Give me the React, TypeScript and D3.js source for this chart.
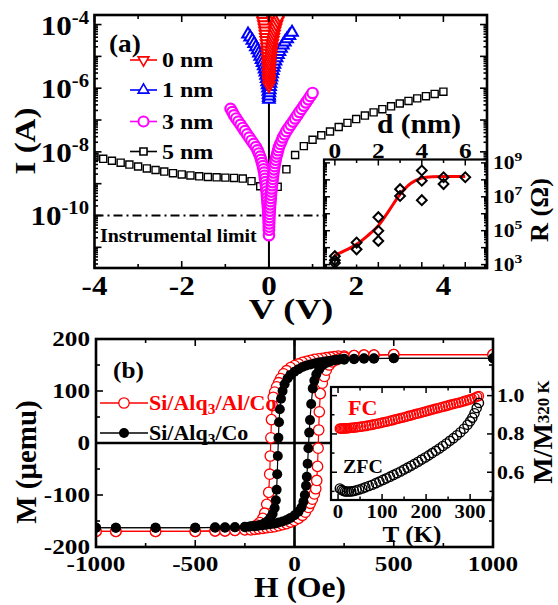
import React from "react";
import * as d3 from "d3";

// ---------- panel (a): I-V curves, bias (V) and log10 of current (A)
const v0nm = [-0.17, -0.15, -0.13, -0.115, -0.1, -0.09, -0.08, -0.07, -0.062, -0.055, -0.048, -0.042, -0.036, -0.03, -0.025, -0.02, -0.016, -0.012, -0.009, -0.006, -0.004, -0.002, 0, 0.002, 0.004, 0.007, 0.01, 0.014, 0.018, 0.023, 0.03, 0.037, 0.045, 0.055, 0.065, 0.075, 0.087, 0.1, 0.115, 0.13, 0.15, 0.17, 0.195, 0.22, 0.25];
const logI0nm = [-3.72, -3.8, -3.9, -4.0, -4.1, -4.2, -4.3, -4.4, -4.5, -4.6, -4.7, -4.8, -4.9, -5.0, -5.1, -5.2, -5.3, -5.4, -5.5, -5.6, -5.7, -5.8, -5.92, -5.8, -5.7, -5.6, -5.5, -5.4, -5.3, -5.2, -5.1, -5.0, -4.9, -4.8, -4.7, -4.6, -4.5, -4.4, -4.3, -4.2, -4.1, -4.0, -3.9, -3.8, -3.72];
// second (inner) sweep of the 0 nm device
const v0nmSweep2 = [-0.08, -0.07, -0.06, -0.052, -0.045, -0.039, -0.033, -0.028, -0.024, -0.02, -0.017, -0.014, -0.011, 0.015, 0.019, 0.023, 0.028, 0.034, 0.041, 0.049, 0.058, 0.068, 0.08, 0.093, 0.108, 0.125];
const logI0nmSweep2 = [-3.75, -3.85, -3.95, -4.05, -4.15, -4.25, -4.35, -4.45, -4.55, -4.65, -4.75, -4.85, -4.95, -4.95, -4.85, -4.75, -4.65, -4.55, -4.45, -4.35, -4.25, -4.15, -4.05, -3.95, -3.85, -3.75];

const v1nm = [-0.48, -0.43, -0.38, -0.34, -0.3, -0.26, -0.23, -0.2, -0.17, -0.145, -0.12, -0.1, -0.082, -0.066, -0.052, -0.04, -0.03, -0.021, -0.014, -0.008, -0.003, 0, 0.005, 0.011, 0.018, 0.026, 0.035, 0.046, 0.058, 0.072, 0.088, 0.106, 0.127, 0.15, 0.177, 0.207, 0.24, 0.278, 0.32, 0.366, 0.416, 0.47, 0.53];
const logI1nm = [-4.3, -4.4, -4.5, -4.6, -4.7, -4.8, -4.9, -5.0, -5.1, -5.2, -5.3, -5.4, -5.5, -5.6, -5.7, -5.8, -5.9, -6.0, -6.1, -6.2, -6.3, -6.35, -6.25, -6.15, -6.05, -5.95, -5.85, -5.75, -5.65, -5.55, -5.45, -5.35, -5.25, -5.15, -5.05, -4.95, -4.85, -4.75, -4.65, -4.55, -4.45, -4.35, -4.25];

const v3nm = [-0.88, -0.84, -0.8, -0.75, -0.7, -0.65, -0.6, -0.55, -0.5, -0.45, -0.4, -0.35, -0.3, -0.26, -0.23, -0.2, -0.18, -0.16, -0.14, -0.125, -0.11, -0.1, -0.09, -0.08, -0.07, -0.062, -0.055, -0.048, -0.042, -0.036, -0.03, -0.025, -0.02, -0.016, -0.012, -0.009, -0.006, -0.004, -0.002, 0,
  0.002, 0.004, 0.006, 0.009, 0.012, 0.016, 0.02, 0.025, 0.03, 0.036, 0.042, 0.048, 0.055, 0.062, 0.07, 0.078, 0.086, 0.095, 0.105, 0.115, 0.127, 0.14, 0.155, 0.17, 0.19, 0.21, 0.23, 0.26, 0.29, 0.32, 0.36, 0.4, 0.45, 0.5, 0.55, 0.6, 0.65, 0.7, 0.75, 0.8, 0.85, 0.9, 0.95, 1.0];
const logI3nm = [-6.65, -6.75, -6.85, -6.95, -7.05, -7.15, -7.25, -7.35, -7.45, -7.55, -7.65, -7.75, -7.85, -7.95, -8.05, -8.15, -8.25, -8.35, -8.45, -8.55, -8.65, -8.75, -8.85, -8.95, -9.05, -9.15, -9.25, -9.35, -9.45, -9.55, -9.65, -9.75, -9.85, -9.95, -10.05, -10.15, -10.25, -10.35, -10.45, -10.62,
  -10.45, -10.35, -10.25, -10.15, -10.05, -9.95, -9.85, -9.75, -9.65, -9.55, -9.45, -9.35, -9.25, -9.15, -9.05, -8.95, -8.85, -8.75, -8.65, -8.55, -8.45, -8.35, -8.25, -8.15, -8.05, -7.95, -7.85, -7.75, -7.65, -7.55, -7.45, -7.35, -7.25, -7.15, -7.05, -6.95, -6.85, -6.75, -6.65, -6.55, -6.45, -6.35, -6.25, -6.15];

const v5nm = [-4.0, -3.8, -3.6, -3.4, -3.2, -3.0, -2.8, -2.6, -2.4, -2.2, -2.0, -1.8, -1.6, -1.4, -1.2, -1.0, -0.8, -0.6, -0.4, -0.2, 0.0, 0.2, 0.4, 0.6, 0.8, 1.0, 1.2, 1.4, 1.6, 1.8, 2.0, 2.2, 2.4, 2.6, 2.8, 3.0, 3.2, 3.4, 3.6, 3.8, 4.0];
const logI5nm = [-8.16, -8.22, -8.28, -8.34, -8.4, -8.46, -8.52, -8.57, -8.62, -8.67, -8.71, -8.74, -8.77, -8.79, -8.8, -8.81, -8.82, -8.84, -8.92, -9.08, -9.5, -9.1, -8.55, -8.1, -7.82, -7.62, -7.48, -7.36, -7.22, -7.09, -6.97, -6.86, -6.76, -6.66, -6.57, -6.48, -6.4, -6.32, -6.25, -6.18, -6.11];

const limitLogI = -10;

// inset (a): resistance vs Alq3 thickness
const dNm = [0, 0, 0, 1, 1, 2, 2, 2, 3, 3, 4, 4, 4, 5, 5, 6];
const logR = [3.5, 3.25, 3.1, 4.3, 3.9, 5.8, 5.0, 4.4, 7.45, 7.05, 8.55, 7.95, 6.8, 8.15, 7.75, 8.15];
const fitD = [0, 0.5, 1, 1.5, 2, 2.5, 3, 3.5, 4, 4.5, 5, 5.5, 6];
const fitLogR = [3.55, 3.85, 4.2, 4.7, 5.3, 6.2, 7.15, 7.8, 8.1, 8.18, 8.2, 8.2, 8.2];

// ---------- panel (b): hysteresis loops, H (Oe) and M (uemu)
const hAlDown = [1000, 500, 400, 350, 300, 250, 220, 200, 180, 160, 140, 120, 100, 80, 60, 40, 20, 0, -20, -40, -55, -70, -80, -90, -100, -107, -112, -116, -119, -122, -125, -130, -140, -150, -160, -175, -190, -210, -230, -250, -300, -350, -400, -500, -700, -900, -1000];
const mAlDown = [170, 170, 169, 169, 168, 167, 167, 166, 165, 164, 163, 162, 161, 159, 157, 155, 152, 149, 145, 139, 133, 124, 116, 108, 98, 88, 72, 45, 10, -25, -60, -95, -118, -135, -145, -153, -158, -162, -164, -166, -168, -169, -169, -170, -170, -170, -170];
const hAlUp = [-1000, -900, -700, -500, -400, -350, -300, -250, -220, -200, -180, -160, -140, -120, -100, -80, -60, -40, -20, 0, 20, 40, 55, 70, 80, 90, 100, 107, 112, 116, 119, 122, 125, 130, 140, 150, 160, 175, 190, 210, 230, 250, 300, 350, 400, 500, 1000];
const mAlUp = [-170, -170, -170, -170, -169, -169, -168, -167, -167, -166, -165, -164, -163, -162, -161, -159, -157, -155, -152, -149, -145, -139, -133, -124, -116, -108, -98, -88, -72, -45, -10, 25, 60, 95, 115, 128, 140, 150, 156, 160, 163, 165, 168, 169, 169, 170, 170];

const hCoDown = [1000, 500, 400, 350, 300, 250, 220, 200, 180, 160, 140, 120, 100, 80, 60, 40, 20, 0, -20, -35, -50, -60, -68, -74, -78, -81, -84, -87, -90, -94, -100, -110, -120, -135, -150, -170, -190, -210, -230, -250, -300, -350, -400, -500, -700, -900, -1000];
const mCoDown = [163, 163, 162, 162, 161, 160, 160, 159, 158, 157, 156, 155, 153, 151, 149, 146, 142, 137, 131, 124, 113, 100, 85, 65, 40, 10, -25, -60, -90, -110, -125, -136, -143, -150, -154, -157, -159, -160, -161, -162, -162, -163, -163, -163, -163, -163, -163];
const hCoUp = [-1000, -900, -700, -500, -400, -350, -300, -250, -220, -200, -180, -160, -140, -120, -100, -80, -60, -40, -20, 0, 20, 35, 45, 52, 58, 62, 66, 70, 74, 78, 84, 92, 100, 110, 125, 140, 160, 180, 200, 230, 250, 300, 350, 400, 500, 1000];
const mCoUp = [-163, -163, -163, -163, -162, -162, -162, -161, -160, -160, -159, -158, -157, -156, -155, -153, -151, -148, -144, -139, -132, -124, -113, -100, -82, -65, -40, -10, 20, 44, 75, 105, 120, 132, 142, 149, 154, 157, 159, 161, 162, 162, 163, 163, 163, 163];

// inset (b): M/M(320 K) vs T
const tFC = [4, 7, 10, 13, 16, 19, 22, 26, 30, 35, 40, 46, 52, 58, 64, 70, 76, 82, 88, 94, 100, 106, 112, 118, 124, 130, 136, 142, 148, 154, 160, 166, 172, 178, 184, 190, 196, 202, 208, 214, 220, 226, 232, 238, 244, 250, 256, 262, 268, 274, 280, 286, 292, 298, 304, 310, 316, 320];
const mFC = [0.828, 0.828, 0.828, 0.829, 0.829, 0.83, 0.83, 0.831, 0.832, 0.833, 0.834, 0.836, 0.838, 0.84, 0.842, 0.845, 0.847, 0.85, 0.853, 0.856, 0.859, 0.862, 0.865, 0.869, 0.872, 0.876, 0.879, 0.883, 0.886, 0.89, 0.894, 0.897, 0.901, 0.905, 0.908, 0.912, 0.916, 0.92, 0.923, 0.927, 0.931, 0.934, 0.938, 0.942, 0.945, 0.949, 0.953, 0.956, 0.96, 0.963, 0.967, 0.971, 0.975, 0.979, 0.984, 0.989, 0.995, 0.998];
const tZFC = [4, 8, 12, 16, 20, 25, 30, 36, 42, 48, 55, 62, 70, 78, 86, 94, 102, 110, 118, 126, 134, 142, 150, 158, 166, 174, 182, 190, 198, 206, 214, 222, 230, 238, 246, 254, 262, 270, 278, 286, 294, 300, 305, 310, 315, 320];
const mZFC = [0.515, 0.508, 0.503, 0.5, 0.499, 0.499, 0.5, 0.502, 0.506, 0.51, 0.515, 0.521, 0.528, 0.535, 0.543, 0.551, 0.56, 0.568, 0.577, 0.586, 0.595, 0.604, 0.614, 0.624, 0.634, 0.644, 0.655, 0.666, 0.677, 0.688, 0.7, 0.712, 0.724, 0.737, 0.75, 0.764, 0.778, 0.793, 0.809, 0.827, 0.848, 0.866, 0.885, 0.908, 0.935, 0.962];

// tick values
const aXMajor = [-4, -2, 0, 2, 4];
const aXMinor = [-3, -1, 1, 3, 5];
const aYLabelExp = [-4, -6, -8, -10];
const iaXMajor = [0, 2, 4, 6];
const iaXMinor = [1, 3, 5];
const iaYLabelExp = [9, 7, 5, 3];
const bXMajor = [-1000, -500, 0, 500, 1000];
const bXMinor = [-750, -250, 250, 750];
const bYMajor = [-200, -100, 0, 100, 200];
const bYMinor = [-150, -50, 50, 150];
const ibXMajor = [0, 100, 200, 300];
const ibXMinor = [50, 150, 250, 350];
const ibYMajor = [0.6, 0.8, 1.0];
const ibYMinor = [0.5, 0.7, 0.9];

const FONT = '"Liberation Serif", "Times New Roman", serif';
const RED = "#ff0000";
const BLUE = "#0000ff";
const MAGENTA = "#ff00ff";

// layout boxes
const A = { l: 94.5, r: 487, t: 15, b: 268 };
const IA = { l: 324, r: 487, t: 159.5, b: 268 };
const B = { l: 96, r: 493, t: 339, b: 547 };
const IB = { l: 331, r: 493, t: 387, b: 500 };

const xA = d3.scaleLinear().domain([-4, 5]).range([A.l, A.r]);
const yA = d3.scaleLog().domain([10 ** -11.65, 10 ** -3.7]).range([A.b, A.t]);
const xIA = d3.scaleLinear().domain([-0.5, 7]).range([IA.l, IA.r]);
const yIA = d3.scaleLog().domain([10 ** 2.8, 10 ** 9.2]).range([IA.b, IA.t]);
const xB = d3.scaleLinear().domain([-1000, 1000]).range([B.l, B.r]);
const yB = d3.scaleLinear().domain([-200, 200]).range([B.b, B.t]);
const xIB = d3.scaleLinear().domain([-16, 352]).range([IB.l, IB.r]);
const yIB = d3.scaleLinear().domain([0.455, 1.045]).range([IB.b, IB.t]);

const triPath = d3.symbol().type(d3.symbolTriangle).size(58)() as string;
const triLegend = d3.symbol().type(d3.symbolTriangle).size(50)() as string;
const sqPath = d3.symbol().type(d3.symbolSquare).size(50)() as string;
const diaPath = d3.symbol().type(d3.symbolSquare).size(48)() as string;

type TxtProps = {
  x: number; y: number; size: number; anchor?: string; sx?: number; rot?: number; fill?: string;
  children: React.ReactNode;
};
function Txt({ x, y, size, anchor = "middle", sx = 1.15, rot = 0, fill = "#000", children }: TxtProps) {
  return (
    <text
      transform={`translate(${x},${y}) rotate(${rot}) scale(${sx},1)`}
      fontSize={size}
      textAnchor={anchor}
      fill={fill}
      fontFamily={FONT}
      fontWeight="bold"
    >
      {children}
    </text>
  );
}

// log ticks: every j*10^k inside the domain
function logTicks(lo: number, hi: number) {
  const out: { v: number; major: boolean }[] = [];
  for (let k = Math.floor(lo); k <= Math.ceil(hi); k++) {
    for (let j = 1; j < 10; j++) {
      const v = j * 10 ** k;
      const e = Math.log10(v);
      if (e >= lo && e <= hi) out.push({ v, major: j === 1 });
    }
  }
  return out;
}

function hTicks(scale: (v: number) => number, vals: number[], y: number, dir: number, len: number) {
  return vals.map((v, i) => (
    <line key={`h${y}-${i}-${v}`} x1={scale(v)} x2={scale(v)} y1={y} y2={y + dir * len} />
  ));
}
function vTicks(scale: (v: number) => number, vals: number[], x: number, dir: number, len: number) {
  return vals.map((v, i) => (
    <line key={`v${x}-${i}-${v}`} x1={x} x2={x + dir * len} y1={scale(v)} y2={scale(v)} />
  ));
}

function zip(xs: number[], ys: number[]) {
  return xs.map((x, i) => [x, ys[i]] as [number, number]);
}

export default function App() {
  const aLog = logTicks(-11.65, -3.7);
  const iaLog = logTicks(2.8, 9.2);

  const lineB = d3
    .line<[number, number]>()
    .x((d) => xB(d[0]))
    .y((d) => yB(d[1]));

  const fitLine = d3
    .line<[number, number]>()
    .x((d) => xIA(d[0]))
    .y((d) => yIA(10 ** d[1]))
    .curve(d3.curveMonotoneX);

  const s5 = zip(v5nm, logI5nm);
  const s3 = zip(v3nm, logI3nm);
  const s1 = zip(v1nm, logI1nm);
  const s0 = [...zip(v0nmSweep2, logI0nmSweep2), ...zip(v0nm, logI0nm)];

  return (
    <svg
      width={558}
      height={605}
      viewBox="0 0 558 605"
      style={{ position: "absolute", left: 0, top: 0, background: "#fff" }}
    >
      <defs>
        <clipPath id="clipA">
          <rect x={A.l} y={A.t} width={A.r - A.l} height={A.b - A.t} />
        </clipPath>
        <clipPath id="clipB">
          <rect x={B.l} y={B.t} width={B.r - B.l} height={B.b - B.t} />
        </clipPath>
        <clipPath id="clipIB">
          <rect x={IB.l} y={IB.t} width={IB.r - IB.l} height={IB.b - IB.t} />
        </clipPath>
      </defs>
      <rect x={0} y={0} width={558} height={605} fill="#fff" />

      {/* ================= panel (a) ================= */}
      <line x1={xA(0)} x2={xA(0)} y1={A.t} y2={A.b} stroke="#000" strokeWidth={2} />
      <line
        x1={A.l}
        x2={IA.l}
        y1={yA(10 ** limitLogI)}
        y2={yA(10 ** limitLogI)}
        stroke="#000"
        strokeWidth={1.8}
        strokeDasharray="9 4 2 4"
      />
      <g clipPath="url(#clipA)">
        {s5.map((d, i) => (
          <path key={`s5-${i}`} d={sqPath} transform={`translate(${xA(d[0])},${yA(10 ** d[1])})`} fill="#fff" stroke="#000" strokeWidth={1.4} />
        ))}
        {s3.map((d, i) => (
          <circle key={`s3-${i}`} cx={xA(d[0])} cy={yA(10 ** d[1])} r={5.2} fill="#fff" stroke={MAGENTA} strokeWidth={2.2} />
        ))}
        {s1.map((d, i) => (
          <path key={`s1-${i}`} d={triPath} transform={`translate(${xA(d[0])},${yA(10 ** d[1])})`} fill="#fff" stroke={BLUE} strokeWidth={2} />
        ))}
        {s0.map((d, i) => (
          <path key={`s0-${i}`} d={triPath} transform={`translate(${xA(d[0])},${yA(10 ** d[1])}) rotate(180)`} fill="#fff" stroke={RED} strokeWidth={2} />
        ))}
      </g>

      {/* ticks of panel (a) */}
      <g stroke="#000" strokeWidth={1.6}>
        {hTicks(xA, aXMajor, A.b, -1, 7)}
        {hTicks(xA, aXMinor, A.b, -1, 4)}
        {hTicks(xA, aXMajor, A.t, 1, 7)}
        {hTicks(xA, aXMinor, A.t, 1, 4)}
        {aLog.map((t, i) => (
          <line key={`al${i}`} x1={A.l} x2={A.l + (t.major ? 7 : 3.5)} y1={yA(t.v)} y2={yA(t.v)} />
        ))}
        {aLog.map((t, i) => (
          <line key={`ar${i}`} x1={A.r} x2={A.r - (t.major ? 7 : 3.5)} y1={yA(t.v)} y2={yA(t.v)} />
        ))}
      </g>

      {/* inset (a) */}
      <rect x={IA.l} y={IA.t} width={IA.r - IA.l} height={IA.b - IA.t} fill="#fff" />
      <path d={fitLine(zip(fitD, fitLogR)) as string} fill="none" stroke={RED} strokeWidth={3} />
      {zip(dNm, logR).map((d, i) => (
        <path key={`dia${i}`} d={diaPath} transform={`translate(${xIA(d[0])},${yIA(10 ** d[1])}) rotate(45)`} fill="none" stroke="#000" strokeWidth={2} />
      ))}
      <g stroke="#000" strokeWidth={1.5}>
        {hTicks(xIA, iaXMajor, IA.t, 1, 6)}
        {hTicks(xIA, iaXMinor, IA.t, 1, 3.5)}
        {hTicks(xIA, iaXMajor, IA.b, -1, 6)}
        {hTicks(xIA, iaXMinor, IA.b, -1, 3.5)}
        {iaLog.map((t, i) => (
          <line key={`ial${i}`} x1={IA.l} x2={IA.l + (t.major ? 6 : 3)} y1={yIA(t.v)} y2={yIA(t.v)} />
        ))}
        {iaLog.map((t, i) => (
          <line key={`iar${i}`} x1={IA.r} x2={IA.r - (t.major ? 6 : 3)} y1={yIA(t.v)} y2={yIA(t.v)} />
        ))}
      </g>
      <rect x={IA.l} y={IA.t} width={IA.r - IA.l} height={IA.b - IA.t} fill="none" stroke="#000" strokeWidth={2.2} />
      <rect x={A.l} y={A.t} width={A.r - A.l} height={A.b - A.t} fill="none" stroke="#000" strokeWidth={2.6} />

      {/* labels of panel (a) */}
      {aXMajor.map((v) => (
        <Txt key={`axl${v}`} x={xA(v)} y={A.b + 27} size={27} sx={1.15}>
          {String(v)}
        </Txt>
      ))}
      {aYLabelExp.map((e) => (
        <Txt key={`ayl${e}`} x={89} y={yA(10 ** e) + 10} size={27} anchor="end" sx={1.15}>
          <tspan>10</tspan>
          <tspan dy={-11} fontSize={18}>{String(e)}</tspan>
        </Txt>
      ))}
      <Txt x={291} y={319} size={30} sx={1.2}>V (V)</Txt>
      <Txt x={35} y={141} size={30} rot={-90} sx={1.1}>I (A)</Txt>
      <Txt x={100} y={242} size={19} anchor="start" sx={1.05}>Instrumental limit</Txt>
      <Txt x={109} y={52} size={26} anchor="start" sx={1.05}>(a)</Txt>

      {/* legend (a) */}
      {[
        { label: "0 nm", y: 60, color: RED, kind: "down" },
        { label: "1 nm", y: 90, color: BLUE, kind: "up" },
        { label: "3 nm", y: 121.5, color: MAGENTA, kind: "circle" },
        { label: "5 nm", y: 151.5, color: "#000", kind: "square" },
      ].map((it) => (
        <g key={it.label}>
          <line x1={130} x2={157} y1={it.y} y2={it.y} stroke={it.color} strokeWidth={1.6} />
          {it.kind === "circle" ? (
            <circle cx={143.5} cy={it.y} r={5} fill="#fff" stroke={it.color} strokeWidth={2} />
          ) : (
            <path
              d={it.kind === "square" ? sqPath : triLegend}
              transform={`translate(143.5,${it.y})${it.kind === "down" ? " rotate(180)" : ""}`}
              fill="#fff"
              stroke={it.color}
              strokeWidth={1.6}
            />
          )}
          <Txt x={162} y={it.y + 7} size={20} anchor="start" sx={1.2}>{it.label}</Txt>
        </g>
      ))}

      {/* labels of inset (a) */}
      {iaXMajor.map((v) => (
        <Txt key={`iaxl${v}`} x={xIA(v)} y={IA.t - 2} size={22} sx={1.15}>
          {String(v)}
        </Txt>
      ))}
      <Txt x={419} y={133} size={28} sx={1.05}>d (nm)</Txt>
      {iaYLabelExp.map((e) => (
        <Txt key={`iayl${e}`} x={493} y={yIA(10 ** e) + 6} size={18} anchor="start" sx={1.2}>
          <tspan>10</tspan>
          <tspan dy={-8} fontSize={13}>{String(e)}</tspan>
        </Txt>
      ))}
      <Txt x={548} y={210} size={25} rot={-90} sx={1.05}>R (Ω)</Txt>

      {/* ================= panel (b) ================= */}
      <line x1={xB(0)} x2={xB(0)} y1={B.t} y2={B.b} stroke="#000" strokeWidth={2.6} />
      <line x1={B.l} x2={IB.l} y1={yB(0)} y2={yB(0)} stroke="#000" strokeWidth={2.6} />
      <g clipPath="url(#clipB)">
        <path d={lineB(zip(hCoDown, mCoDown)) as string} fill="none" stroke="#000" strokeWidth={1.2} />
        <path d={lineB(zip(hCoUp, mCoUp)) as string} fill="none" stroke="#000" strokeWidth={1.2} />
        <path d={lineB(zip(hAlDown, mAlDown)) as string} fill="none" stroke={RED} strokeWidth={1.2} />
        <path d={lineB(zip(hAlUp, mAlUp)) as string} fill="none" stroke={RED} strokeWidth={1.2} />
        {[...zip(hAlDown, mAlDown), ...zip(hAlUp, mAlUp)].map((d, i) => (
          <circle key={`al-${i}`} cx={xB(d[0])} cy={yB(d[1])} r={5.2} fill="#fff" stroke={RED} strokeWidth={1.3} />
        ))}
        {[...zip(hCoDown, mCoDown), ...zip(hCoUp, mCoUp)].map((d, i) => (
          <circle key={`co-${i}`} cx={xB(d[0])} cy={yB(d[1])} r={5} fill="#000" />
        ))}
      </g>

      <g stroke="#000" strokeWidth={1.6}>
        {hTicks(xB, bXMajor, B.b, -1, 7)}
        {hTicks(xB, bXMinor, B.b, -1, 4)}
        {hTicks(xB, bXMajor, B.t, 1, 7)}
        {hTicks(xB, bXMinor, B.t, 1, 4)}
        {vTicks(yB, bYMajor, B.l, 1, 7)}
        {vTicks(yB, bYMinor, B.l, 1, 4)}
        {vTicks(yB, bYMajor, B.r, -1, 7)}
        {vTicks(yB, bYMinor, B.r, -1, 4)}
      </g>

      {/* inset (b) */}
      <rect x={IB.l} y={IB.t} width={IB.r - IB.l} height={IB.b - IB.t} fill="#fff" />
      <g clipPath="url(#clipIB)">
        {zip(tFC, mFC).map((d, i) => (
          <circle key={`fc${i}`} cx={xIB(d[0])} cy={yIB(d[1])} r={4.6} fill="none" stroke={RED} strokeWidth={1.4} />
        ))}
        {zip(tZFC, mZFC).map((d, i) => (
          <circle key={`zfc${i}`} cx={xIB(d[0])} cy={yIB(d[1])} r={4.6} fill="none" stroke="#000" strokeWidth={1.4} />
        ))}
      </g>
      <g stroke="#000" strokeWidth={1.5}>
        {hTicks(xIB, ibXMajor, IB.b, -1, 6)}
        {hTicks(xIB, ibXMinor, IB.b, -1, 3.5)}
        {hTicks(xIB, ibXMajor, IB.t, 1, 6)}
        {hTicks(xIB, ibXMinor, IB.t, 1, 3.5)}
        {vTicks(yIB, ibYMajor, IB.l, 1, 6)}
        {vTicks(yIB, ibYMinor, IB.l, 1, 3.5)}
        {vTicks(yIB, ibYMajor, IB.r, -1, 6)}
        {vTicks(yIB, ibYMinor, IB.r, -1, 3.5)}
      </g>
      <rect x={IB.l} y={IB.t} width={IB.r - IB.l} height={IB.b - IB.t} fill="none" stroke="#000" strokeWidth={2.2} />
      <rect x={B.l} y={B.t} width={B.r - B.l} height={B.b - B.t} fill="none" stroke="#000" strokeWidth={2.6} />

      {/* labels of panel (b) */}
      {bXMajor.map((v) => (
        <Txt key={`bxl${v}`} x={xB(v)} y={B.b + 24} size={21} sx={1.2}>
          {String(v)}
        </Txt>
      ))}
      {bYMajor.map((v) => (
        <Txt key={`byl${v}`} x={90} y={yB(v) + 7} size={21} anchor="end" sx={1.2}>
          {String(v)}
        </Txt>
      ))}
      <Txt x={300} y={597} size={30} sx={1.05}>H (Oe)</Txt>
      <Txt x={36} y={462} size={29} rot={-90} sx={1.0}>M (μemu)</Txt>
      <Txt x={113} y={378} size={24} anchor="start" sx={1.05}>(b)</Txt>

      {/* legend (b) */}
      <line x1={100} x2={148} y1={403} y2={403} stroke={RED} strokeWidth={1.3} />
      <circle cx={124} cy={403} r={5.2} fill="#fff" stroke={RED} strokeWidth={1.3} />
      <Txt x={149} y={410} size={20} anchor="start" sx={1.1} fill={RED}>
        <tspan>Si/Alq</tspan>
        <tspan dy={4} fontSize={14}>3</tspan>
        <tspan dy={-4}>/Al/Co</tspan>
      </Txt>
      <line x1={100} x2={148} y1={433} y2={433} stroke="#000" strokeWidth={1.3} />
      <circle cx={124} cy={433} r={5} fill="#000" />
      <Txt x={149} y={440} size={20} anchor="start" sx={1.1}>
        <tspan>Si/Alq</tspan>
        <tspan dy={4} fontSize={14}>3</tspan>
        <tspan dy={-4}>/Co</tspan>
      </Txt>

      {/* labels of inset (b) */}
      {ibXMajor.map((v) => (
        <Txt key={`ibxl${v}`} x={xIB(v)} y={IB.b + 18} size={18} sx={1.15}>
          {String(v)}
        </Txt>
      ))}
      {ibYMajor.map((v) => (
        <Txt key={`ibyl${v}`} x={497} y={yIB(v) + 6.5} size={19} anchor="start" sx={1.15}>
          {v.toFixed(1)}
        </Txt>
      ))}
      <Txt x={412} y={542} size={24} sx={1.05}>T (K)</Txt>
      <Txt x={348} y={415} size={21} anchor="start" sx={1.05} fill={RED}>FC</Txt>
      <Txt x={343} y={473} size={19} anchor="start" sx={1.05}>ZFC</Txt>
      <Txt x={552} y={432} size={28} rot={-90} sx={1.0}>
        <tspan>M/M</tspan>
        <tspan dy={-3} fontSize={17}>320 K</tspan>
      </Txt>
    </svg>
  );
}
